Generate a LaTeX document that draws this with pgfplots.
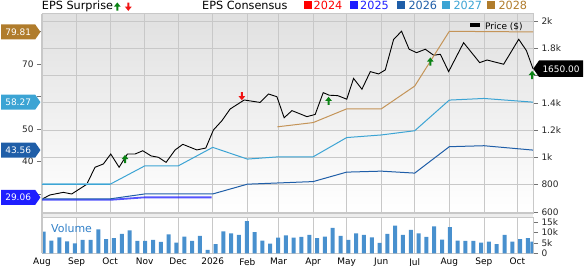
\documentclass[border=0pt]{standalone}
\usepackage{pgfplots}
\pgfplotsset{compat=1.18}
\usepackage{fontspec}
\setmainfont{DejaVu Sans}
\usetikzlibrary{shapes.symbols}
\definecolor{c24}{RGB}{255,0,0}
\definecolor{c25}{RGB}{30,30,255}
\definecolor{c26}{RGB}{31,94,168}
\definecolor{c27}{RGB}{60,164,212}
\definecolor{c28}{RGB}{176,124,44}
\definecolor{c28l}{RGB}{196,148,88}
\definecolor{gridc}{RGB}{200,200,200}
\definecolor{volc}{RGB}{72,144,206}
\definecolor{volt}{RGB}{49,128,200}
\definecolor{upg}{RGB}{10,130,20}
\definecolor{dnr}{RGB}{240,20,20}
\pgfdeclareplotmark{uparr}{%
  \pgfpathmoveto{\pgfqpoint{-3.4pt}{0pt}}%
  \pgfpathlineto{\pgfqpoint{0pt}{4.2pt}}%
  \pgfpathlineto{\pgfqpoint{3.4pt}{0pt}}%
  \pgfpathlineto{\pgfqpoint{1.0pt}{0pt}}%
  \pgfpathlineto{\pgfqpoint{1.0pt}{-4pt}}%
  \pgfpathlineto{\pgfqpoint{-1.0pt}{-4pt}}%
  \pgfpathlineto{\pgfqpoint{-1.0pt}{0pt}}%
  \pgfpathclose\pgfusepathqfill}
\pgfdeclareplotmark{dnarr}{%
  \pgfpathmoveto{\pgfqpoint{-3.4pt}{0pt}}%
  \pgfpathlineto{\pgfqpoint{0pt}{-4.2pt}}%
  \pgfpathlineto{\pgfqpoint{3.4pt}{0pt}}%
  \pgfpathlineto{\pgfqpoint{1.0pt}{0pt}}%
  \pgfpathlineto{\pgfqpoint{1.0pt}{4pt}}%
  \pgfpathlineto{\pgfqpoint{-1.0pt}{4pt}}%
  \pgfpathlineto{\pgfqpoint{-1.0pt}{0pt}}%
  \pgfpathclose\pgfusepathqfill}
\newcommand{\tickfont}{\fontsize{9}{10}\selectfont}
\newcommand{\legfont}{\fontsize{11.3}{13}\selectfont}
\tikzset{tagL/.style={signal, signal to=east, signal pointer angle=110, text=white, font=\tickfont, minimum height=15bp, inner xsep=4.2bp, inner ysep=0pt, anchor=east, xshift=-1.3bp}}
\begin{document}
\begin{tikzpicture}
\fill[black!7] (42bp,48bp) rectangle (533bp,53bp);
% ---------------- price axis (background, grid, right ticks)
\begin{axis}[
  at={(42bp,53bp)}, anchor=south west, scale only axis,
  width=491bp, height=199bp,
  xmin=0, xmax=440, ymin=592.7, ymax=2051.3,
  axis background/.style={shade, top color=black!12, middle color=white, bottom color=white},
  xtick={31,61,92,122,153,184,212,243,273,304,334,365,396,426},
  xticklabels={}, xtick style={draw=none},
  ytick={600,800,1000,1200,1400,1600,1800,2000},
  yticklabels={600,800,1k,1.2k,1.4k,,1.8k,2k},
  ytick pos=right, yticklabel pos=right,
  grid=major, major grid style={draw=gridc, line width=0.8bp},
  axis line style={draw=gridc, line width=1bp},
  tick align=outside, major tick length=5bp,
  ytick style={draw=black!55, line width=0.7bp},
  yticklabel style={font=\tickfont, text=black!85},
  clip mode=individual,
]
\addplot[black, line width=0.9bp] coordinates {
(0,695)(7.2,725)(19.1,744)(26.6,732)(40.1,803)(47.5,928)(55,952)(61.6,1025)
(69.1,928)(76.5,1025)(83.4,1025)(90.3,1049)(97.8,1011)(104.3,1001)(111.2,964)
(119.3,1055)(126.2,1096)(138.7,1055)(146.8,1069)(153.6,1201)(161.2,1269)(168.6,1355)
(181.2,1421)(195.5,1403)(203,1465)(210.5,1445)(217,1291)(224,1343)(237.4,1299)
(244.8,1315)(252,1475)(257.4,1456)(265,1453)(273.1,1427)(279.2,1579)(286.7,1500)
(294.2,1629)(301.6,1612)(307.6,1641)(315.1,1865)(322.2,1925)(329,1793)(335.7,1768)
(343.5,1793)(351,1749)(357,1756)(364.4,1629)(377.8,1841)(392.2,1695)(398.8,1714)
(413.7,1683)(427.2,1866)(434.1,1783)(440,1650)};
\end{axis}
% ---------------- EPS consensus axis (left)
\begin{axis}[
  at={(42bp,53bp)}, anchor=south west, scale only axis,
  width=491bp, height=199bp,
  xmin=0, xmax=440, ymin=24.26, ymax=85.31,
  axis x line=none, axis y line*=left,
  y axis line style={draw=gridc, line width=1.3bp, -},
  ytick={30,40,50,60,70,80},
  yticklabels={,40,50,,70,},
  tick align=outside, major tick length=5bp,
  ytick style={draw=black!55, line width=0.7bp},
  yticklabel style={font=\tickfont, text=black!85},
  /pgf/number format/assume math mode=true,
  clip mode=individual,
]
\addplot[c25, line width=1.8bp, opacity=0.75] coordinates {(0,28.3)(61,28.3)(92,29.06)(152,29.06)};
\addplot[c26, line width=1bp] coordinates {(0,28.6)(61,28.6)(92,30.1)(153,30.1)(184,33.1)(243,33.9)(273,36.8)(304,37.1)(334,36.5)(365,44.6)(396,44.9)(440,43.56)};
\addplot[c27!55, line width=2bp] coordinates {(0,33.07)(61,33.07)};
\addplot[c27, line width=1bp] coordinates {(0,33.07)(61,33.07)(92,38.7)(122,38.7)(153,44.4)(184,40.8)(212,41.5)(243,41.5)(273,47.4)(304,48.2)(334,49.5)(365,58.9)(396,59.4)(440,58.27)};
\addplot[c28l, line width=1bp] coordinates {(211,50.7)(243,52.0)(273,56.2)(304,56.2)(334,63.2)(365,80.0)(440,79.81)};
\end{axis}
% ---------------- surprise arrows + price tag (price scale, on top)
\begin{axis}[
  at={(42bp,53bp)}, anchor=south west, scale only axis,
  width=491bp, height=199bp,
  xmin=0, xmax=440, ymin=592.7, ymax=2051.3,
  hide axis, clip=false,
]
\addplot[only marks, mark=uparr, mark options={fill=upg, draw=none}] coordinates {(74.4,988)(256.8,1414)(348,1702)(439.2,1604)};
\addplot[only marks, mark=dnarr, mark options={fill=dnr, draw=none}] coordinates {(179.1,1450)};
\node[signal, signal to=west, signal pointer angle=110, fill=black, text=white, font=\tickfont, minimum height=16.5bp, inner xsep=3.5bp, inner ysep=0pt, anchor=west] at (axis cs:440,1650) {1650.00};
\end{axis}
% ---------------- EPS tags (EPS scale, on top)
\begin{axis}[
  at={(42bp,53bp)}, anchor=south west, scale only axis,
  width=491bp, height=199bp,
  xmin=0, xmax=440, ymin=24.26, ymax=85.31,
  hide axis, clip=false,
]
\node[tagL, fill=c28] at (axis cs:0,79.81) {79.81};
\node[tagL, fill=c27] at (axis cs:0,58.27) {58.27};
\node[tagL, fill=c26] at (axis cs:0,43.56) {43.56};
\node[tagL, fill=c25] at (axis cs:0,29.06) {29.06};
\end{axis}
% ---------------- volume axis
\begin{axis}[
  at={(42bp,12.7bp)}, anchor=south west, scale only axis,
  width=491bp, height=35.3bp,
  xmin=0, xmax=440, ymin=0, ymax=17.1,
  xtick={0,31,61,92,122,153,184,212,243,273,304,334,365,396,426},
  xticklabels={Aug,Sep,Oct,Nov,Dec,2026,Feb,Mar,Apr,May,Jun,Jul,Aug,Sep,Oct},
  xticklabel style={font=\tickfont, text=black, yshift=3.5bp},
  xtick style={draw=none},
  xmajorgrids=true, major grid style={draw=gridc, line width=0.8bp},
  ytick={0,5,10,15}, yticklabels={0,5k,10k,15k},
  ytick pos=right, yticklabel pos=right,
  axis line style={draw=gridc, line width=1bp},
  tick align=outside, major tick length=5bp,
  ytick style={draw=black!55, line width=0.7bp},
  yticklabel style={font=\tickfont, text=black!85},
]
\addplot[ybar, bar width=4bp, fill=volc, draw=none] coordinates {
(1.5,10.5)(8.5,6.1)(15.5,7.7)(22.5,5.8)(29.5,4.8)(36.5,6.5)(43.5,6.5)(50.5,11.6)
(57.5,6.9)(64.5,7.4)(71.5,9.4)(78.5,11.1)(85.5,6.0)(92.5,6.0)(99.5,6.5)(106.5,5.5)
(113.5,9.2)(120.5,5.2)(127.5,8.1)(134.5,6.0)(141.5,8.4)(148.5,1.6)(155.5,4.5)(162.5,10.6)
(169.5,9.7)(176.5,8.9)(183.5,15.6)(190.5,10.2)(197.5,6.1)(204.5,4.7)(211.5,7.6)(218.5,8.7)
(225.5,7.6)(232.5,7.9)(239.5,8.9)(246.5,7.4)(253.5,8.1)(260.5,12.3)(267.5,8.4)(274.5,6.5)
(281.5,9.7)(288.5,8.9)(295.5,7.7)(302.5,5.0)(309.5,9.4)(316.5,13.4)(323.5,8.9)(330.5,11.3)
(337.5,9.7)(344.5,7.9)(351.5,13.1)(358.5,6.6)(365.5,12.7)(372.5,6.1)(379.5,6.0)(386.5,6.0)
(393.5,5.2)(400.5,5.6)(407.5,4.4)(414.5,8.9)(421.5,5.6)(428.5,6.9)(435.5,7.3)(439.5,5.6)};
\end{axis}
\draw[gridc, line width=1.3bp] (42bp,12.7bp) -- (42bp,53bp);
% ---------------- legends and labels
\node[anchor=base west, font=\legfont, inner sep=0pt] at (41.7bp,256bp) {EPS Surprise};
\begin{scope}[shift={(117.3bp,259.3bp)}, x=1bp, y=1bp]
\fill[upg] (-3.4,0)--(0,4.2)--(3.4,0)--(1,0)--(1,-4)--(-1,-4)--(-1,0)--cycle;
\end{scope}
\begin{scope}[shift={(128.3bp,259.3bp)}, x=1bp, y=1bp]
\fill[dnr] (-3.4,0)--(0,-4.2)--(3.4,0)--(1,0)--(1,4)--(-1,4)--(-1,0)--cycle;
\end{scope}
\node[anchor=base west, font=\legfont, inner sep=0pt] at (202bp,256bp) {EPS Consensus};
\fill[c24] (304bp,256.5bp) rectangle (312bp,264.5bp);
\node[anchor=base west, font=\legfont, inner sep=0pt, text=c24] at (313.5bp,256bp) {2024};
\fill[c25] (350bp,256.5bp) rectangle (358bp,264.5bp);
\node[anchor=base west, font=\legfont, inner sep=0pt, text=c25] at (360bp,256bp) {2025};
\fill[c26] (396.7bp,256.5bp) rectangle (404.7bp,264.5bp);
\node[anchor=base west, font=\legfont, inner sep=0pt, text=c26] at (408.3bp,256bp) {2026};
\fill[c27] (441.7bp,256.5bp) rectangle (449.7bp,264.5bp);
\node[anchor=base west, font=\legfont, inner sep=0pt, text=c27] at (453.3bp,256bp) {2027};
\fill[c28] (486.7bp,256.5bp) rectangle (494.7bp,264.5bp);
\node[anchor=base west, font=\legfont, inner sep=0pt, text=c28] at (498.3bp,256bp) {2028};
\fill[black] (470bp,238.7bp) rectangle (480bp,243.3bp);
\node[anchor=base west, font=\tickfont, inner sep=0pt] at (485bp,236.7bp) {Price (\$)};
\node[anchor=base west, font=\fontsize{11}{12}\selectfont, inner sep=0pt, text=volt] at (51bp,33.7bp) {Volume};
\pgfresetboundingbox
\useasboundingbox (0,0) rectangle (585bp,266bp);
\end{tikzpicture}
\end{document}
